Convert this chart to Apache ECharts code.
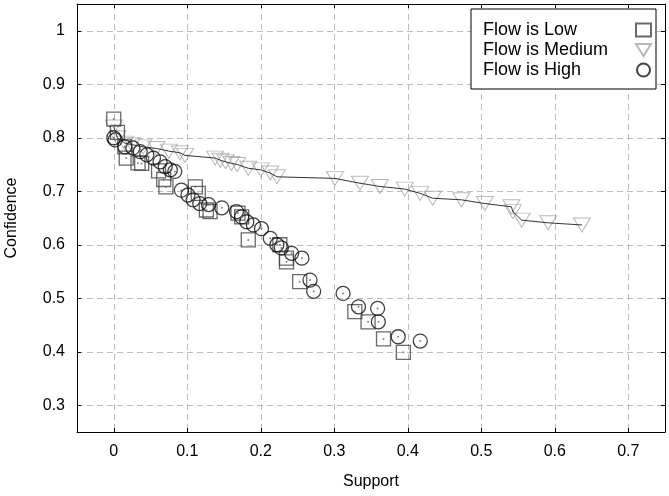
<!DOCTYPE html>
<html>
<head>
<meta charset="utf-8">
<script src="https://cdn.jsdelivr.net/npm/echarts@6/dist/echarts.min.js"></script>
<style>html,body{margin:0;padding:0;background:#fff}#c{width:669px;height:496px}</style>
</head>
<body>
<div id="c"></div>
<script>
// Data: [support, confidence]
const lowData = [[0.0,0.835],[0.005,0.81],[0.015,0.783],[0.017,0.762],[0.033,0.753],[0.038,0.752],[0.061,0.738],[0.068,0.722],[0.071,0.708],[0.111,0.708],[0.115,0.696],[0.126,0.665],[0.131,0.662],[0.169,0.659],[0.174,0.652],[0.183,0.609],[0.226,0.600],[0.235,0.575],[0.235,0.568],[0.253,0.531],[0.328,0.475],[0.346,0.456],[0.367,0.424],[0.394,0.399]];
const mediumData = [[0.0,0.82],[0.005,0.80],[0.015,0.79],[0.025,0.787],[0.04,0.783],[0.058,0.78],[0.075,0.775],[0.09,0.772],[0.097,0.767],[0.138,0.762],[0.145,0.758],[0.152,0.755],[0.16,0.752],[0.168,0.75],[0.183,0.743],[0.2,0.74],[0.213,0.734],[0.222,0.727],[0.301,0.724],[0.335,0.715],[0.362,0.709],[0.396,0.704],[0.417,0.696],[0.434,0.687],[0.473,0.684],[0.505,0.677],[0.541,0.671],[0.543,0.662],[0.555,0.646],[0.591,0.641],[0.637,0.637]];
const highData = [[0.0,0.80],[0.002,0.796],[0.015,0.783],[0.026,0.781],[0.036,0.774],[0.045,0.768],[0.054,0.762],[0.063,0.755],[0.07,0.746],[0.077,0.74],[0.083,0.737],[0.092,0.702],[0.101,0.693],[0.108,0.684],[0.117,0.677],[0.129,0.675],[0.147,0.669],[0.167,0.662],[0.174,0.652],[0.181,0.643],[0.19,0.637],[0.201,0.63],[0.213,0.612],[0.222,0.6],[0.228,0.594],[0.242,0.584],[0.256,0.575],[0.267,0.534],[0.272,0.513],[0.312,0.509],[0.333,0.484],[0.359,0.481],[0.36,0.456],[0.387,0.428],[0.417,0.42]];
const seriesNames = ['Flow is Low','Flow is Medium','Flow is High'];
const xAxisName = 'Support';
const yAxisName = 'Confidence';

const FONT = 'Liberation Sans, Arial, sans-serif';
const tri = 'path://M0,0 L20,0 L10,16 Z';
function fmt(v){
  const t = v*10;
  if (Math.abs(Math.round(t)-t) > 1e-6) return '';
  return String(+v.toFixed(1));
}
const gridLine = {show:true, lineStyle:{color:'#bdbdbd', type:[6,4], width:1}};
function axisBase(showLabel){
  return {
    type:'value', splitNumber:8,
    axisLine:{show:true, onZero:false, lineStyle:{color:'#000', width:1}},
    axisTick:{show:true, inside:true, length:4, lineStyle:{color:'#000'}},
    axisLabel:{show:showLabel, formatter:fmt, color:'#000', fontSize:16, fontFamily:FONT, margin:12},
  };
}
const chart = echarts.init(document.getElementById('c'), null, {renderer:'canvas'});
const dot = (name, data) => ({name, type:'scatter', data, symbol:'circle', symbolSize:2, silent:true,
  itemStyle:{color:'#666'}, z:4});
chart.setOption({
  animation:false,
  backgroundColor:'#fff',
  grid:{left:77, top:4, right:4, bottom:64, show:false, containLabel:false, outerBoundsMode:'none'},
  xAxis:[
    Object.assign(axisBase(true), {min:-0.05, max:0.75, position:'bottom', splitLine:gridLine,
      name:xAxisName, nameLocation:'middle', nameGap:42,
      nameTextStyle:{color:'#000', fontSize:16, fontFamily:FONT}}),
    Object.assign(axisBase(false), {min:-0.05, max:0.75, position:'top', splitLine:{show:false}})
  ],
  yAxis:[
    Object.assign(axisBase(true), {min:0.25, max:1.05, position:'left', splitLine:gridLine,
      name:yAxisName, nameLocation:'middle', nameGap:57,
      nameTextStyle:{color:'#000', fontSize:16, fontFamily:FONT}}),
    Object.assign(axisBase(false), {min:0.25, max:1.05, position:'right', splitLine:{show:false}})
  ],
  legend:{
    data:seriesNames, orient:'vertical', right:13, top:9, align:'right',
    padding:[11,4,9,12], itemGap:0, itemWidth:15, itemHeight:13,
    backgroundColor:'#fff', borderColor:'#000', borderWidth:1, borderRadius:0,
    formatter:'{t|{name}}',
    textStyle:{color:'#000', fontSize:18, fontFamily:FONT,
      rich:{t:{width:148, align:'left', fontSize:18, fontFamily:FONT, color:'#000', lineHeight:20, height:20}}},
    selectedMode:false
  },
  series:[
    {name:'medLine', type:'line', data:mediumData, showSymbol:false, symbol:'none',
      lineStyle:{color:'#333', width:1}, silent:true, z:3},
    {name:seriesNames[1], type:'scatter', data:mediumData, symbol:tri, symbolSize:[17,14],
      itemStyle:{color:'rgba(0,0,0,0)', borderColor:'#a8a8a8', borderWidth:1}, z:2},
    {name:seriesNames[0], type:'scatter', data:lowData, symbol:'rect', symbolSize:14,
      itemStyle:{color:'rgba(0,0,0,0)', borderColor:'#444', borderWidth:1.3}, z:2},
    {name:seriesNames[2], type:'scatter', data:highData, symbol:'circle', symbolSize:14,
      itemStyle:{color:'rgba(0,0,0,0)', borderColor:'#111', borderWidth:1.3}, z:2},
    dot('lowDot', lowData),
    dot('highDot', highData)
  ]
});
</script>
</body>
</html>
